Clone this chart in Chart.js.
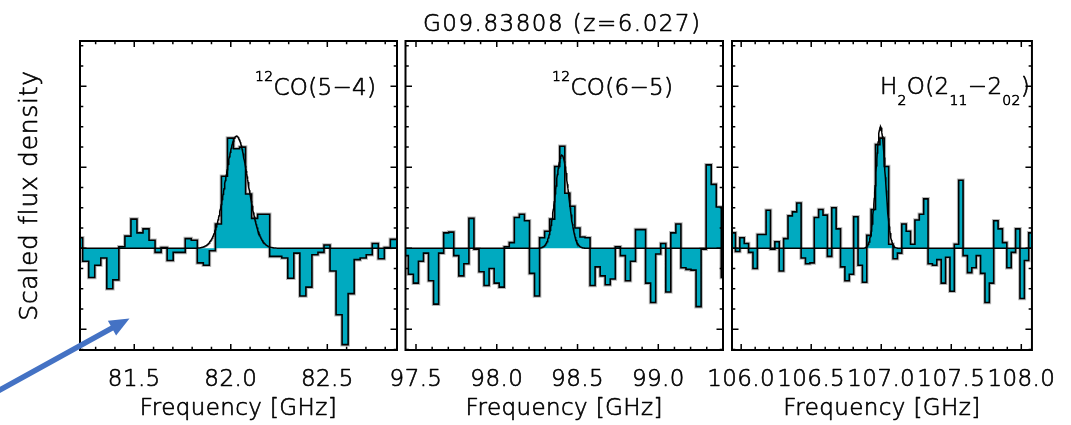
<!DOCTYPE html>
<html><head><meta charset="utf-8">
<script src="https://cdn.jsdelivr.net/npm/chart.js@4.4.1/dist/chart.umd.min.js"></script>
<style>
html,body{margin:0;padding:0;background:#fff;width:1071px;height:425px;overflow:hidden;}
.c{position:absolute;top:0;height:425px;}
canvas{display:block;}
</style></head><body>
<div class="c" style="left:0;width:440px"><canvas id="c1" width="440" height="425"></canvas></div>
<div class="c" style="left:360px;width:420px"><canvas id="c2" width="420" height="425"></canvas></div>
<div class="c" style="left:690px;width:381px"><canvas id="c3" width="381" height="425"></canvas></div>
<script>
// ---------------- data ----------------
const mainTitle = "G09.83808 (z=6.027)";
const yAxisTitle = "Scaled flux density";
const xAxisTitle = "Frequency [GHz]";

// scaled flux density per channel (left to right)
const co54Flux = [0.13,-0.16,-0.36,-0.21,-0.12,-0.50,-0.39,0.02,0.15,0.36,
  0.19,0.24,0.10,-0.05,0.01,-0.15,-0.05,-0.05,0.12,0.10,
  -0.18,-0.21,-0.03,0.30,0.89,1.36,1.23,1.25,0.67,0.37,
  0.42,0.42,-0.10,-0.10,-0.12,-0.37,-0.06,-0.59,-0.48,-0.08,
  -0.05,0.04,-0.28,-0.82,-1.19,-0.56,-0.14,-0.12,-0.08,0.06,
  -0.13,0.01,0.11];
const co65Flux = [-0.09,-0.32,-0.43,-0.16,-0.06,-0.40,-0.69,-0.06,0.19,0.20,
  -0.09,-0.34,-0.19,0.37,-0.01,-0.29,-0.46,-0.25,-0.43,-0.48,
  0.02,0.07,0.38,0.42,0.34,-0.31,-0.59,0.13,0.21,0.36,
  1.01,1.26,0.68,0.52,0.25,0.14,0.13,-0.46,-0.23,-0.34,
  -0.45,-0.38,0.02,-0.09,-0.40,-0.16,0.23,0.23,-0.43,-0.67,
  -0.07,0.06,-0.54,0.19,0.30,-0.24,-0.26,-0.27,-0.72,-0.01,
  1.03,0.79,0.51,-0.36];
const h2oFlux = [0.19,-0.04,0.13,0.06,-0.05,-0.25,0.17,0.17,0.47,-0.01,
  0.08,-0.28,0.12,0.40,0.45,0.56,-0.12,-0.19,-0.18,0.38,
  0.48,0.41,-0.10,0.50,0.24,-0.23,-0.40,-0.32,0.39,-0.21,
  -0.42,0.16,0.48,1.28,1.36,1.01,0.05,-0.13,-0.06,0.30,
  0.21,0.05,0.35,0.42,0.61,-0.19,-0.21,-0.14,-0.43,-0.11,
  -0.53,0.05,0.84,-0.09,-0.30,-0.24,-0.09,-0.31,-0.67,-0.43,
  0.34,0.24,0.07,-0.24,-0.05,0.24,-0.62,-0.15,0.19];

const chanWidthGHz = 0.03125;
const firstChanStart = [81.2016, 97.4213, 105.928];   // GHz, low edge of first channel
const freqMin = [81.219, 97.435, 105.9345];
const freqMax = [82.861, 99.4006, 108.076];
const tickLabels1 = [81.5, 82.0, 82.5];
const tickLabels2 = [97.5, 98.0, 98.5, 99.0];
const tickLabels3 = [106.0, 106.5, 107.0, 107.5, 108.0];
// Gaussian fits
const lineCenters = [82.03, 98.403, 106.995];
const lineAmps = [1.385, 1.15, 1.50];
const lineFWHM = [0.136, 0.094, 0.079];
const yMin = -1.256, yMax = 2.56;

// line labels: [text, kind]
const lineLabel1 = [["12","sup"],["CO(5\u22124)",""]];
const lineLabel2 = [["12","sup"],["CO(6\u22125)",""]];
const lineLabel3 = [["H",""],["2","sub"],["O(2",""],["11","sub"],["\u22122",""],["02","sub"],[")",""]];

// ---------------- styling ----------------
const TEAL = '#00AAC0';
const FAM = '"DejaVu Sans", "Liberation Sans", sans-serif';
const W = 200;
const TXT = '#000';

function gauss(f, i) {
  const d = (f - lineCenters[i]) / lineFWHM[i];
  return lineAmps[i] * Math.exp(-4 * Math.LN2 * d * d);
}

// give the thin font a slightly heavier stroke
function thickenText(ctx) {
  if (ctx.__thick) return;
  ctx.__thick = true;
  const orig = ctx.fillText;
  ctx.fillText = function (t, x, y, mw) {
    if (mw === undefined) orig.call(this, t, x, y); else orig.call(this, t, x, y, mw);
    const lw = this.lineWidth, ss = this.strokeStyle, lj = this.lineJoin;
    this.lineWidth = 0.65; this.strokeStyle = this.fillStyle; this.lineJoin = 'round';
    if (mw === undefined) this.strokeText(t, x, y); else this.strokeText(t, x, y, mw);
    this.lineWidth = lw; this.strokeStyle = ss; this.lineJoin = lj;
  };
}

function drawSegments(ctx, segs, x, y) {
  ctx.textAlign = 'left';
  ctx.textBaseline = 'alphabetic';
  for (const [t, kind] of segs) {
    const size = kind ? 14 : 23;
    ctx.font = `${W} ${size}px ${FAM}`;
    const dy = kind === 'sup' ? -14.3 : (kind === 'sub' ? 11.5 : 0);
    ctx.fillText(t, x, y + dy);
    x += ctx.measureText(t).width;
  }
}

const framePlugin = {
  id: 'frame',
  beforeDraw(chart) { thickenText(chart.ctx); chart.ctx.letterSpacing = '0.4px'; },
  afterDraw(chart, args, opts) {
    const {ctx, chartArea: a} = chart;
    const x = chart.scales.x, y = chart.scales.y;
    ctx.save();
    ctx.strokeStyle = '#000';
    ctx.lineWidth = 1.5;
    ctx.beginPath();
    for (let k = Math.ceil(x.min * 10 - 1e-6); k <= Math.floor(x.max * 10 + 1e-6); k++) {
      const len = (k % 5 === 0) ? 6 : 3.2;
      const px = x.getPixelForValue(k / 10);
      ctx.moveTo(px, a.bottom); ctx.lineTo(px, a.bottom - len);
      ctx.moveTo(px, a.top); ctx.lineTo(px, a.top + len);
    }
    for (let k = Math.ceil(y.min * 4 - 1e-6); k <= Math.floor(y.max * 4 + 1e-6); k++) {
      const len = (k % 4 === 0) ? 6.5 : 3.3;
      const py = y.getPixelForValue(k / 4);
      ctx.moveTo(a.left, py); ctx.lineTo(a.left + len, py);
      ctx.moveTo(a.right, py); ctx.lineTo(a.right - len, py);
    }
    ctx.stroke();
    ctx.lineWidth = 2;
    ctx.strokeRect(a.left, a.top, a.right - a.left, a.bottom - a.top);

    ctx.fillStyle = TXT;
    ctx.letterSpacing = '0.3px';
    drawSegments(ctx, opts.label, a.left + opts.labelDx, opts.labelY);

    if (opts.first) {
      // y-axis title
      ctx.save();
      ctx.letterSpacing = '0.7px';
      ctx.font = `${W} 25px ${FAM}`;
      ctx.translate(37, (a.top + a.bottom) / 2);
      ctx.rotate(-Math.PI / 2);
      ctx.textAlign = 'center';
      ctx.textBaseline = 'alphabetic';
      ctx.fillText(yAxisTitle, 0, 0);
      ctx.restore();
      // blue arrow
      const tip = [129.5, 318.5], tail = [-4, 392];
      const ang = Math.atan2(tip[1] - tail[1], tip[0] - tail[0]);
      const headLen = 20, headHalf = 8.5;
      const bx = tip[0] - headLen * Math.cos(ang), by = tip[1] - headLen * Math.sin(ang);
      ctx.strokeStyle = '#4472C4'; ctx.fillStyle = '#4472C4';
      ctx.lineWidth = 5.5;
      ctx.beginPath(); ctx.moveTo(tail[0], tail[1]);
      ctx.lineTo(bx + 2 * Math.cos(ang), by + 2 * Math.sin(ang)); ctx.stroke();
      const nx = -Math.sin(ang), ny = Math.cos(ang);
      ctx.beginPath(); ctx.moveTo(tip[0], tip[1]);
      ctx.lineTo(bx + nx * headHalf, by + ny * headHalf);
      ctx.lineTo(bx - nx * headHalf, by - ny * headHalf);
      ctx.closePath(); ctx.fill();
    }
    if (opts.title) {
      ctx.fillStyle = TXT;
      ctx.letterSpacing = '1.5px';
      ctx.font = `${W} 23px ${FAM}`;
      ctx.textAlign = 'center';
      ctx.textBaseline = 'alphabetic';
      ctx.fillText(mainTitle, (a.left + a.right) / 2 - 2, 30.7);
    }
    ctx.restore();
  }
};

function makeChart(id, idx, flux, ticks, pad, frameOpts) {
  const hist = flux.map((v, i) => ({x: firstChanStart[idx] + i * chanWidthGHz, y: v}));
  hist.push({x: firstChanStart[idx] + flux.length * chanWidthGHz, y: flux[flux.length - 1]});
  const model = [];
  const N = 700;
  for (let k = 0; k <= N; k++) {
    const f = freqMin[idx] + (freqMax[idx] - freqMin[idx]) * k / N;
    model.push({x: f, y: gauss(f, idx)});
  }
  return new Chart(document.getElementById(id), {
    type: 'line',
    data: {datasets: [
      {data: model, borderColor: '#000', borderWidth: 1.5, pointRadius: 0, fill: false, tension: 0},
      {data: hist, stepped: true, borderColor: '#000', borderWidth: 1.6, backgroundColor: TEAL, fill: 'origin', pointRadius: 0},
      {data: hist, stepped: true, borderColor: 'rgba(0,0,0,0.28)', borderWidth: 3.6, fill: false, pointRadius: 0}
    ]},
    options: {
      responsive: false, animation: false, devicePixelRatio: 1,
      layout: {padding: pad},
      plugins: {legend: {display: false}, tooltip: {enabled: false}, frame: frameOpts},
      scales: {
        x: {
          type: 'linear', min: freqMin[idx], max: freqMax[idx],
          afterBuildTicks: s => { s.ticks = ticks.map(v => ({value: v})); },
          afterFit: s => { s.height = 75; },
          grid: {display: false, drawTicks: false}, border: {display: false},
          ticks: {callback: v => Number(v).toFixed(1), color: TXT, padding: 16, maxRotation: 0, autoSkip: false,
                  font: {family: FAM, size: 23, weight: W}},
          title: {display: true, text: xAxisTitle, color: TXT, padding: {top: 0, bottom: 2.5},
                  font: {family: FAM, size: 23, weight: W}}
        },
        y: {type: 'linear', min: yMin, max: yMax, display: false}
      }
    },
    plugins: [framePlugin]
  });
}

makeChart('c1', 0, co54Flux, tickLabels1, {left: 80, right: 43, top: 41, bottom: 0},
  {label: lineLabel1, labelDx: 175, labelY: 95, first: true});
makeChart('c2', 1, co65Flux, tickLabels2, {left: 45.5, right: 57, top: 41, bottom: 0},
  {label: lineLabel2, labelDx: 146.5, labelY: 95, title: true});
makeChart('c3', 2, h2oFlux, tickLabels3, {left: 42, right: 22, top: 41, bottom: 0},
  {label: lineLabel3, labelDx: 148, labelY: 93.5});
</script>
</body></html>
